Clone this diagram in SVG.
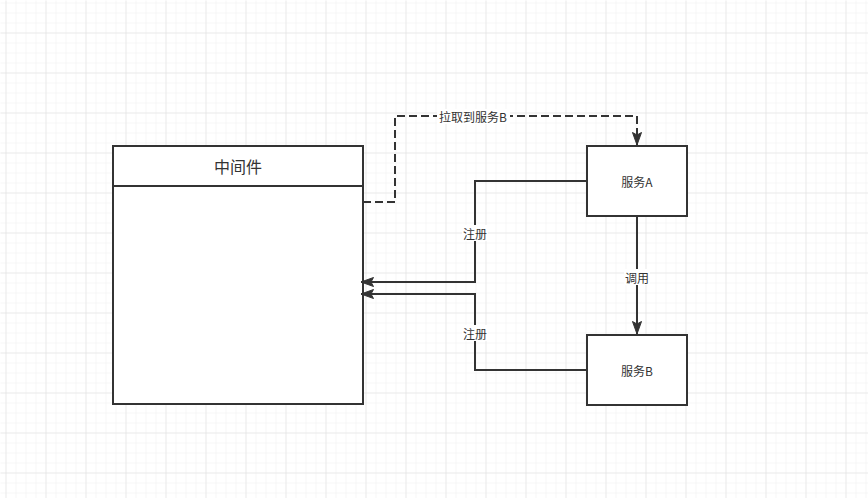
<svg xmlns="http://www.w3.org/2000/svg" width="868" height="498" viewBox="0 0 868 498">
<defs>
<pattern id="minor" x="5" y="2" width="10" height="10" patternUnits="userSpaceOnUse">
<path d="M0 0H10M0 0V10" fill="none" stroke="#efefef" stroke-width="1"/>
</pattern>
<pattern id="major" x="5" y="32" width="40" height="40" patternUnits="userSpaceOnUse">
<path d="M0 0H40M0 0V40" fill="none" stroke="#e0e0e0" stroke-width="1"/>
</pattern>
<marker id="arr" viewBox="0 0 13 10" refX="13" refY="5" markerWidth="13" markerHeight="10" markerUnits="userSpaceOnUse" orient="auto">
<path d="M0.5 0.5L13 5L0.5 9.5L3 5Z" fill="#333" stroke="#333" stroke-width="1"/>
</marker>
<style>
.box{fill:#fff;stroke:#333;stroke-width:2}
.edge{fill:none;stroke:#333;stroke-width:2}
.dash{stroke-dasharray:8 4}
.t{font-family:"Noto Sans CJK SC","Microsoft YaHei",sans-serif;fill:#333;text-anchor:middle;dominant-baseline:central}
.lbl{font-size:12px}
.bg{fill:#fff}
</style>
</defs>
<rect width="868" height="498" fill="#fff"/>
<g transform="translate(0.5,0.5)">
<rect width="868" height="498" fill="url(#minor)"/>
<rect width="868" height="498" fill="url(#major)"/>
</g>
<g id="middleware">
<rect class="box" x="113" y="146" width="250" height="258"/>
<line class="edge" x1="113" y1="186" x2="363" y2="186"/>
<text class="t" x="238" y="166" font-size="16">中间件</text>
</g>
<g id="serviceA">
<rect class="box" x="587" y="146" width="100" height="70"/>
<text class="t lbl" x="637" y="181">服务A</text>
</g>
<g id="serviceB">
<rect class="box" x="587" y="335" width="100" height="70"/>
<text class="t lbl" x="637" y="370">服务B</text>
</g>
<g id="connectors">
<path class="edge dash" d="M363 202H395V116H637V145" marker-end="url(#arr)"/>
<path class="edge" d="M587 181H475V282H361" marker-end="url(#arr)"/>
<path class="edge" d="M587 370H475V294H361" marker-end="url(#arr)"/>
<path class="edge" d="M637 216V334" marker-end="url(#arr)"/>
<rect class="bg" x="437" y="109" width="73" height="15"/>
<text class="t lbl" x="473" y="116">拉取到服务B</text>
<rect class="bg" x="462" y="225" width="26" height="16"/>
<text class="t lbl" x="475" y="233">注册</text>
<rect class="bg" x="462" y="325" width="26" height="16"/>
<text class="t lbl" x="475" y="333">注册</text>
<rect class="bg" x="624" y="269" width="26" height="16"/>
<text class="t lbl" x="637" y="277">调用</text>
</g>
</svg>
